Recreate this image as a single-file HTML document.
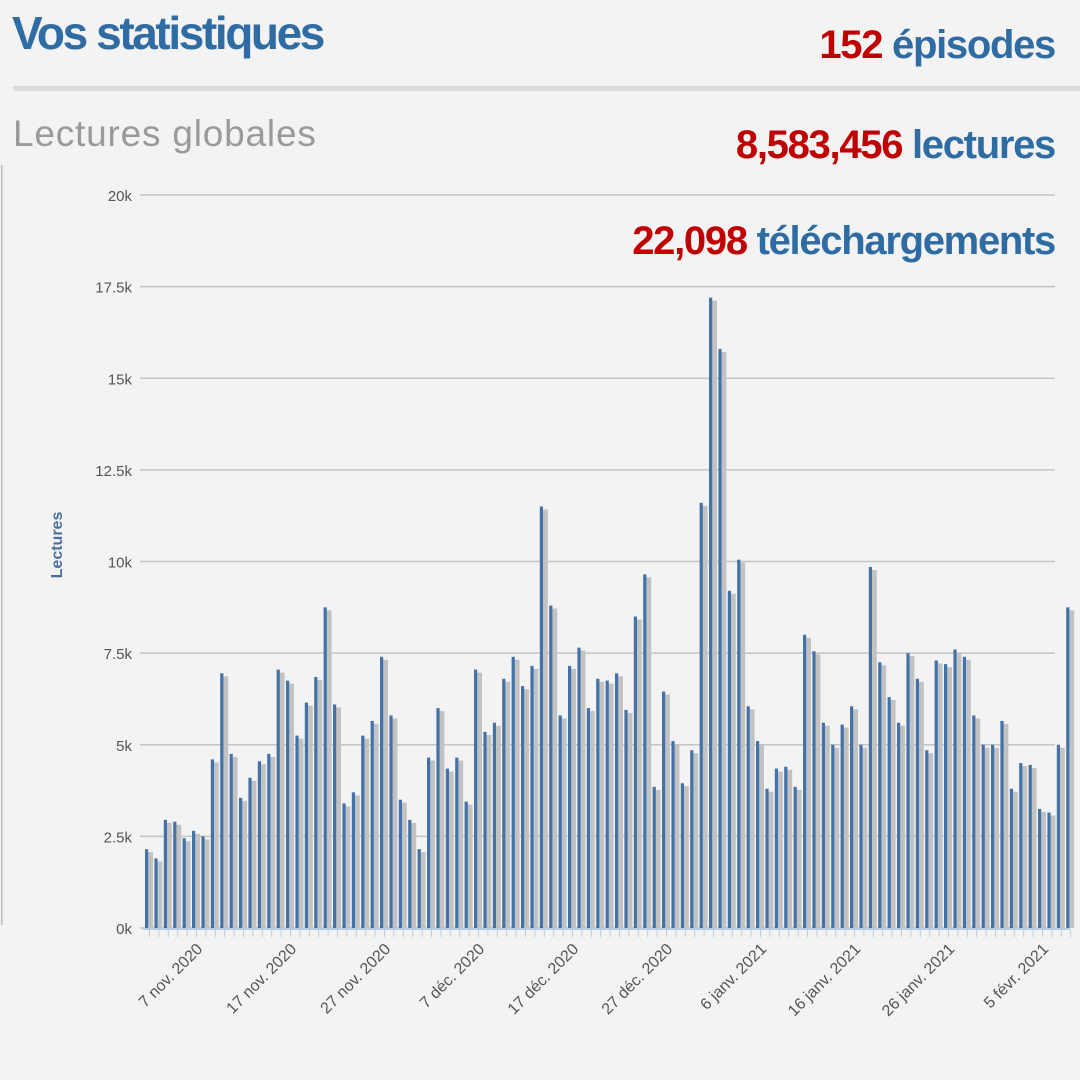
<!DOCTYPE html>
<html><head><meta charset="utf-8"><style>
body{margin:0;background:#f3f3f3;width:1080px;height:1080px;overflow:hidden;font-family:"Liberation Sans",sans-serif}
</style></head><body>
<svg id="s" width="1080" height="1080" xmlns="http://www.w3.org/2000/svg" style="position:absolute;left:0;top:0">
<rect width="1080" height="1080" fill="#f3f3f3"/>
<text x="12" y="49" font-size="46" font-weight="bold" fill="#2f6ca3" letter-spacing="-2.4">Vos statistiques</text>
<text x="1055" y="58" text-anchor="end" font-size="40" font-weight="bold" letter-spacing="-1.3"><tspan fill="#c00000">152</tspan><tspan fill="#2f6ca3"> épisodes</tspan></text>
<rect x="13" y="86" width="1067" height="5" fill="#dcdcdc"/>
<text x="13" y="146" font-size="37" fill="#9a9a9a" letter-spacing="0.8">Lectures globales</text>
<text x="1055" y="158" text-anchor="end" font-size="40" font-weight="bold" letter-spacing="-1.3"><tspan fill="#c00000">8,583,456</tspan><tspan fill="#2f6ca3"> lectures</tspan></text>
<text x="1055" y="254" text-anchor="end" font-size="40" font-weight="bold" letter-spacing="-1.3"><tspan fill="#c00000">22,098</tspan><tspan fill="#2f6ca3"> téléchargements</tspan></text>
<rect x="1" y="165" width="1.5" height="760" fill="#bbb"/>
<text transform="translate(62,545) rotate(-90)" text-anchor="middle" font-size="16" font-weight="bold" fill="#4a6f9e">Lectures</text>
<g id="grid"></g><g id="bars"></g><g id="lab"></g>
</svg>
<script>
var NS="http://www.w3.org/2000/svg";
function el(t,a,p,txt){var e=document.createElementNS(NS,t);for(var k in a)e.setAttribute(k,a[k]);if(txt)e.textContent=txt;document.getElementById(p).appendChild(e);return e;}
var y0=928,sc=36.65;
var yl=["0k","2.5k","5k","7.5k","10k","12.5k","15k","17.5k","20k"];
for(var i=0;i<9;i++){var y=y0-i*2.5*sc;
el("rect",{x:140,y:y-0.75,width:915,height:1.5,fill:"#c4c4c4"},"grid");
el("text",{x:132,y:y+6,"text-anchor":"end","font-size":"15",fill:"#555"},"grid",yl[i]);}
var d=[2150,1900,2950,2900,2450,2650,2500,4600,6950,4750,3550,4100,4550,4750,7050,6750,5250,6150,6850,8750,6100,3400,3700,5250,5650,7400,5800,3500,2950,2150,4650,6000,4350,4650,3450,7050,5350,5600,6800,7400,6600,7150,11500,8800,5800,7150,7650,6000,6800,6750,6950,5950,8500,9650,3850,6450,5100,3950,4850,11600,17200,15800,9200,10050,6050,5100,3800,4350,4400,3850,8000,7550,5600,5000,5550,6050,5000,9850,7250,6300,5600,7500,6800,4850,7300,7200,7600,7400,5800,5000,5000,5650,3800,4500,4450,3250,3150,5000,8750];
var x0=145,p=9.4;
for(var i=0;i<d.length;i++){var x=x0+i*p,h=d[i]/1000*sc;
el("rect",{x:x+2.5,y:y0-h+3,width:5.5,height:h-3,fill:"#c2c2c2"},"bars");
el("rect",{x:x,y:y0-h,width:3.2,height:h,fill:"#4472a8"},"bars");
el("rect",{x:x+4,y:930,width:1,height:7,fill:"#b8cce4"},"bars");}
el("rect",{x:143,y:928,width:927,height:2,fill:"#b8cce4"},"bars");
var L=["7 nov. 2020","17 nov. 2020","27 nov. 2020","7 déc. 2020","17 déc. 2020","27 déc. 2020","6 janv. 2021","16 janv. 2021","26 janv. 2021","5 févr. 2021"];
for(var i=0;i<L.length;i++){var x=x0+6*p+2+i*10*p;
el("text",{transform:"translate("+x+",950) rotate(-45)","text-anchor":"end","font-size":"16",fill:"#555"},"lab",L[i]);}
</script>
</body></html>
